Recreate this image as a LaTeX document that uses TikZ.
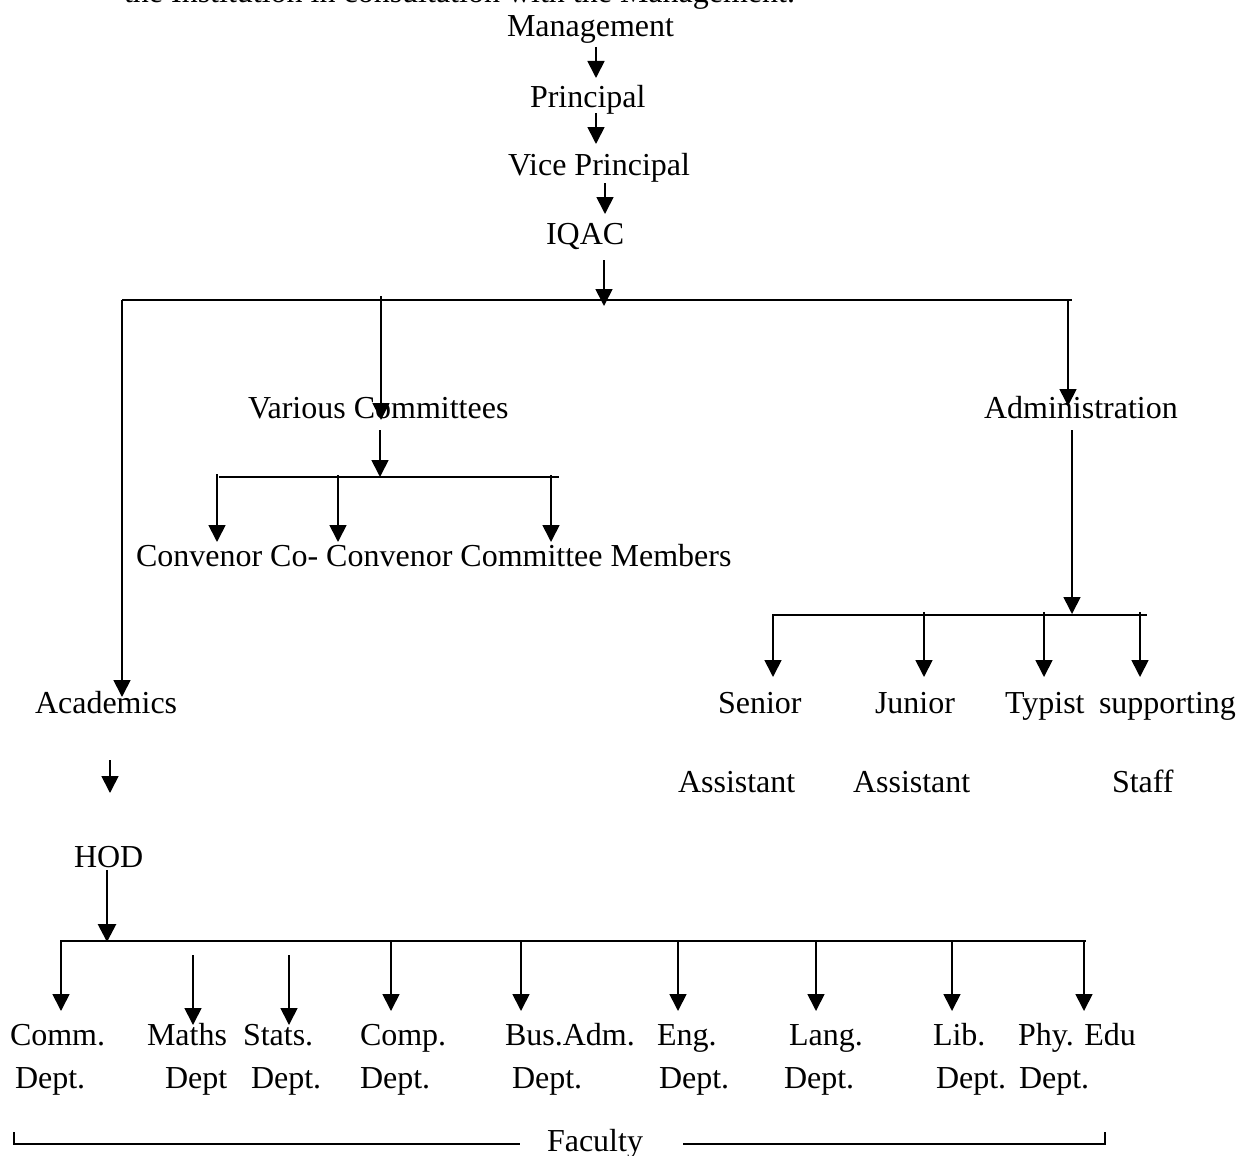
\documentclass[tikz,border=0pt]{standalone}
\usepackage{fontspec}
\setmainfont{Liberation Serif}
\usetikzlibrary{arrows.meta}
\tikzset{
  lbl/.style={anchor=base west, inner sep=0pt, outer sep=0pt, font=\fontsize{32}{38}\selectfont},
  ln/.style={line width=1.7pt},
  arr/.style={line width=1.7pt, -{Triangle[width=17pt,length=17pt]}},
  thickarr/.style={line width=2.8pt, -{Triangle[width=18pt,length=18pt]}},
  brk/.style={line width=2.8pt}
}
\begin{document}
\begin{tikzpicture}[x=1pt,y=-1pt]
\useasboundingbox (0,0) rectangle (1237,1156);
\begin{scope}
\clip (0,0) rectangle (1237,1156);
% ---- top (cut-off) sentence
\node[lbl, overlay] (intro) at (124,3) {the Institution in consultation with the Management.};
\node[lbl, overlay] (fac) at (547,1151) {Faculty};
\end{scope}
% ---- chain
\node[lbl] (mgmt) at (507,37) {Management};
\node[lbl] (prin) at (530,107) {Principal};
\node[lbl] (vp) at (508,175) {Vice Principal};
\node[lbl] (iqac) at (546,244) {IQAC};
\coordinate (a1s) at (596,47);  \coordinate (a1e) at (596,78);
\coordinate (a2s) at (596,113); \coordinate (a2e) at (596,144);
\coordinate (a3s) at (605,183); \coordinate (a3e) at (605,214);
\coordinate (a4s) at (604,260); \coordinate (a4e) at (604,306);
\draw[arr] (a1s) -- (a1e);
\draw[arr] (a2s) -- (a2e);
\draw[arr] (a3s) -- (a3e);
\draw[arr] (a4s) -- (a4e);
% ---- top bus
\coordinate (busL) at (122,300);
\coordinate (busR) at (1072,300);
\draw[ln] (busL) -- (busR);
% ---- second level
\node[lbl] (vc) at (248,418) {Various Committees};
\node[lbl] (adm) at (984,418) {Administration};
\node[lbl] (acad) at (35,713) {Academics};
\coordinate (acadTip) at (122,697);
\coordinate (vcTop) at (381,296);   \coordinate (vcTip) at (381,420);
\coordinate (admTop) at (1068,300); \coordinate (admTip) at (1068,406);
\draw[arr] (busL) -- (acadTip);
\draw[arr] (vcTop) -- (vcTip);
\draw[arr] (admTop) -- (admTip);
% ---- committees branch
\coordinate (vcS) at (380,430); \coordinate (vcB) at (380,477);
\coordinate (cbL) at (219,477); \coordinate (cbR) at (559,477);
\draw[arr] (vcS) -- (vcB);
\draw[ln] (cbL) -- (cbR);
\coordinate (c1s) at (217,474); \coordinate (c1e) at (217,542);
\coordinate (c2s) at (338,475); \coordinate (c2e) at (338,542);
\coordinate (c3s) at (551,475); \coordinate (c3e) at (551,542);
\draw[arr] (c1s) -- (c1e);
\draw[arr] (c2s) -- (c2e);
\draw[arr] (c3s) -- (c3e);
\node[lbl] (conv) at (136,566) {Convenor Co- Convenor Committee Members};
% ---- administration branch
\coordinate (adS) at (1072,430); \coordinate (adB) at (1072,614);
\coordinate (abL) at (772,615); \coordinate (abR) at (1147,615);
\draw[arr] (adS) -- (adB);
\draw[ln] (abL) -- (abR);
\coordinate (s1s) at (773,615);  \coordinate (s1e) at (773,677);
\coordinate (s2s) at (924,612);  \coordinate (s2e) at (924,677);
\coordinate (s3s) at (1044,612); \coordinate (s3e) at (1044,677);
\coordinate (s4s) at (1140,612); \coordinate (s4e) at (1140,677);
\draw[arr] (s1s) -- (s1e);
\draw[arr] (s2s) -- (s2e);
\draw[arr] (s3s) -- (s3e);
\draw[arr] (s4s) -- (s4e);
\node[lbl] (senior) at (718,713) {Senior};
\node[lbl] (junior) at (875,713) {Junior};
\node[lbl] (typist) at (1005,713) {Typist};
\node[lbl] (supp) at (1099,713) {supporting};
\node[lbl] (sassist) at (678,792) {Assistant};
\node[lbl] (jassist) at (853,792) {Assistant};
\node[lbl] (staff) at (1112,792) {Staff};
% ---- academics branch
\coordinate (hs) at (110,760); \coordinate (he) at (110,793);
\draw[arr] (hs) -- (he);
\node[lbl] (hod) at (74,867) {HOD};
\coordinate (hodS) at (107,870); \coordinate (hodE) at (107,942);
\draw[thickarr] (hodS) -- (hodE);
\coordinate (dbL) at (60,941); \coordinate (dbR) at (1086,941);
\draw[ln] (dbL) -- (dbR);
% department arrows
\foreach \n/\x/\ys/\ye in {d1/61/941/1011, d2/193/955/1025, d3/289/955/1025, d4/391/941/1011,
  d5/521/941/1011, d6/678/941/1011, d7/816/941/1011, d8/952/941/1011, d9/1084/941/1011}{
  \coordinate (\n s) at (\x,\ys);
  \coordinate (\n e) at (\x,\ye);
  \draw[arr] (\n s) -- (\n e);
}
% department labels
\node[lbl] (comm) at (10,1045) {Comm.};   \node[lbl] (commd) at (15,1088) {Dept.};
\node[lbl] (maths) at (147,1045) {Maths}; \node[lbl] (mathsd) at (165,1088) {Dept};
\node[lbl] (stats) at (243,1045) {Stats.};\node[lbl] (statsd) at (251,1088) {Dept.};
\node[lbl] (comp) at (360,1045) {Comp.};  \node[lbl] (compd) at (360,1088) {Dept.};
\node[lbl] (bus) at (505,1045) {Bus.Adm.};\node[lbl] (busd) at (512,1088) {Dept.};
\node[lbl] (eng) at (657,1045) {Eng.};    \node[lbl] (engd) at (659,1088) {Dept.};
\node[lbl] (lang) at (789,1045) {Lang.};  \node[lbl] (langd) at (784,1088) {Dept.};
\node[lbl] (lib) at (933,1045) {Lib.};    \node[lbl] (libd) at (936,1088) {Dept.};
\node[lbl] (phy) at (1018,1045) {Phy. Edu};\node[lbl] (phyd) at (1019,1088) {Dept.};
% ---- faculty bracket
\coordinate (fL0) at (14,1132); \coordinate (fL1) at (14,1144); \coordinate (fL2) at (520,1144);
\coordinate (fR0) at (683,1144); \coordinate (fR1) at (1105,1144); \coordinate (fR2) at (1105,1132);
\draw[brk] (fL0) -- (fL1) -- (fL2);
\draw[brk] (fR0) -- (fR1) -- (fR2);
\end{tikzpicture}
\end{document}
